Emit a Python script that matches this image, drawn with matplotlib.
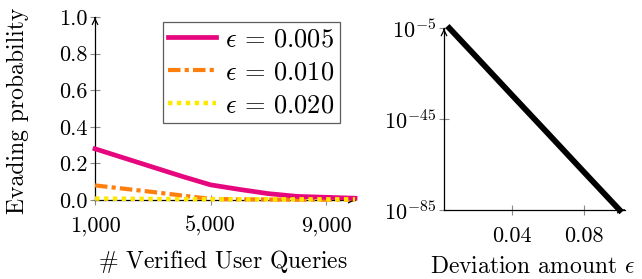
import matplotlib
matplotlib.use('Agg')
import matplotlib.pyplot as plt

plt.rcParams['font.family'] = 'cmr10'
plt.rcParams['mathtext.fontset'] = 'cm'
plt.rcParams['axes.formatter.use_mathtext'] = True

queries = [1000, 2000, 3000, 4000, 5000, 6000, 7000, 8000, 9000, 10000]
evade_005 = [0.28, 0.23, 0.18, 0.13, 0.083, 0.058, 0.035, 0.02, 0.015, 0.01]
evade_010 = [0.08, 0.062, 0.044, 0.025, 0.006, 0.004, 0.003, 0.002, 0.002, 0.002]
evade_020 = [0.008, 0.007, 0.006, 0.005, 0.004, 0.004, 0.004, 0.004, 0.004, 0.004]
series_labels = [r'$\epsilon\,=\,0.005$', r'$\epsilon\,=\,0.010$', r'$\epsilon\,=\,0.020$']

eps = [0.005, 0.02, 0.04, 0.06, 0.08, 0.1]
prob = [1e-5, 2.5e-18, 3.2e-35, 5.0e-52, 6.3e-69, 1e-85]

PINK = '#E6077F'
ORANGE = '#FF7F0E'
YELLOW = '#FFE800'
TICK = '#8A8A8A'

fig = plt.figure(figsize=(6.42, 2.79), dpi=100)
ax1 = fig.add_axes([0.148, 0.283, 0.405, 0.656])
ax2 = fig.add_axes([0.6916, 0.247, 0.282, 0.652])

# left panel
l1, = ax1.plot(queries, evade_005, color=PINK, lw=3.4, clip_on=False, zorder=4)
l2, = ax1.plot(queries, evade_010, color=ORANGE, lw=3.0, ls=(0, (3, 1, 1, 1)), clip_on=False, zorder=3)
l3, = ax1.plot(queries, evade_020, color=YELLOW, lw=3.2, ls=(0, (1, 1)), clip_on=False, zorder=5)
ax1.set_xlim(1000, 10000)
ax1.set_ylim(0, 1.0)
ax1.set_xticks([1000, 5000, 9000])
ax1.set_xticklabels(['1,000', '5,000', '9,000'])
ax1.set_yticks([0, 0.2, 0.4, 0.6, 0.8, 1.0])
ax1.set_yticklabels(['0.0', '0.2', '0.4', '0.6', '0.8', '1.0'])
ax1.legend([l1, l2, l3], series_labels, loc='upper left', bbox_to_anchor=(0.26, 0.975),
           fontsize=19, frameon=True, fancybox=False, edgecolor='#333333',
           handlelength=1.8, handletextpad=0.35, borderpad=0.22, labelspacing=0.36,
           borderaxespad=0)
ax1.legend_.get_frame().set_linewidth(0.9)

# right panel
ax2.plot(eps, prob, color='black', lw=4.2, clip_on=False, zorder=4)
ax2.set_yscale('log')
ax2.set_xlim(0.002, 0.103)
ax2.set_ylim(1e-85, 1e-5)
ax2.set_xticks([0.04, 0.08])
ax2.set_xticklabels(['0.04', '0.08'])
ax2.set_yticks([1e-85, 1e-45, 1e-5])
ax2.set_yticklabels([r'$10^{-85}$', r'$10^{-45}$', r'$10^{-5}$'])
ax2.minorticks_off()

for ax in (ax1, ax2):
    for s in ('top', 'right'):
        ax.spines[s].set_visible(False)
    ax.spines['left'].set_linewidth(0.9)
    ax.spines['bottom'].set_linewidth(0.9)
    ax.tick_params(labelsize=16, length=7, width=0.8, color=TICK, direction='inout', pad=2)
    ax.tick_params(axis='x', pad=8)
    ax.annotate('', xy=(1.012, 0), xytext=(0.98, 0), xycoords='axes fraction',
                arrowprops=dict(arrowstyle='->', lw=0.9, color='black'), annotation_clip=False)
    ax.annotate('', xy=(0, 1.012), xytext=(0, 0.98), xycoords='axes fraction',
                arrowprops=dict(arrowstyle='->', lw=0.9, color='black'), annotation_clip=False)

fig.text(0.028, 0.602, 'Evading probability', rotation=90, fontsize=17, ha='center', va='center')
fig.text(0.153, 0.062, r'$\#$ Verified User Queries', fontsize=17, ha='left', va='center')
fig.text(0.67, 0.043, r'Deviation amount $\epsilon$', fontsize=17, ha='left', va='center')

fig.savefig('out.png', dpi=100)
